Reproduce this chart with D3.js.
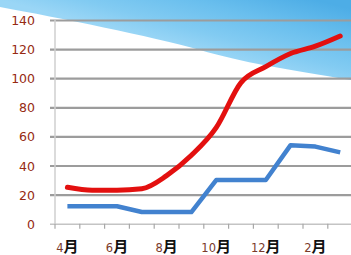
<!DOCTYPE html>
<html>
<head>
<meta charset="utf-8">
<script src="https://cdn.jsdelivr.net/npm/d3@7"></script>
<style>
  body { margin: 0; background: #fff; }
  svg { display: block; }
</style>
</head>
<body>
<svg id="chart" width="351" height="255"></svg>
<script>
'use strict';

const months = ['4月', '5月', '6月', '7月', '8月', '9月', '10月', '11月', '12月', '1月', '2月', '3月'];
const redValues = [25, 23, 23, 24, 33, 47, 66, 97, 108, 117, 122, 129];
const blueValues = [12, 12, 12, 8, 8, 8, 30, 30, 30, 54, 53, 49];
const yTicks = [0, 20, 40, 60, 80, 100, 120, 140];

const svg = d3.select('#chart');

// slot scale: month i sits between i and i+1
const x = d3.scaleLinear().domain([0, 12]).range([55, 352.6]);
const y = d3.scaleLinear().domain([0, 140]).range([223.7, 20]);

// blue background wedge, top right
const defs = svg.append('defs');
const grad = defs.append('linearGradient')
    .attr('id', 'sky')
    .attr('gradientUnits', 'userSpaceOnUse')
    .attr('x1', 200).attr('y1', 52)
    .attr('x2', 220).attr('y2', -25);
grad.append('stop').attr('offset', 0).attr('stop-color', '#9ad6f6');
grad.append('stop').attr('offset', 0.25).attr('stop-color', '#82cbf2');
grad.append('stop').attr('offset', 0.6).attr('stop-color', '#6abfee');
grad.append('stop').attr('offset', 1).attr('stop-color', '#4dade6');

svg.append('path')
    .attr('d', 'M0,0 L351,0 L351,80 C290,70 240,62 200,50 C150,36 60,18 0,7 Z')
    .attr('fill', 'url(#sky)');

// grid lines + y labels
const yAxis = svg.append('g')
    .attr('transform', 'translate(55,0)')
    .call(d3.axisLeft(y).tickValues(yTicks).tickSize(5).tickPadding(15));
yAxis.select('.domain').remove();
yAxis.selectAll('.tick line')
    .attr('x1', -5)
    .attr('x2', 300)
    .attr('stroke', (d) => d === 0 ? '#c4c4c4' : '#9c9c9c')
    .attr('stroke-width', (d) => d === 0 ? 1.5 : 2.2);
yAxis.selectAll('.tick text')
    .attr('fill', '#962a12')
    .attr('font-family', 'DejaVu Sans, sans-serif')
    .attr('font-size', 12.5)
    .attr('dy', '0.36em');

// vertical axis line
svg.append('line')
    .attr('x1', 55).attr('x2', 55)
    .attr('y1', y(140)).attr('y2', y(0))
    .attr('stroke', '#cfcfcf')
    .attr('stroke-width', 1.5);

// x ticks at slot boundaries
svg.append('g')
    .selectAll('line')
    .data(d3.range(0, 13))
    .join('line')
    .attr('x1', (d) => x(d)).attr('x2', (d) => x(d))
    .attr('y1', y(0)).attr('y2', y(0) + 5)
    .attr('stroke', '#a8a8a8')
    .attr('stroke-width', 1.2);

// month labels, every other
const labels = svg.append('g')
    .selectAll('text')
    .data(months.map((m, i) => ({m, i})).filter((d) => d.i % 2 === 0))
    .join('text')
    .attr('x', (d) => x(d.i + 0.5))
    .attr('y', 252)
    .attr('text-anchor', 'middle');
labels.append('tspan')
    .attr('fill', '#7a3a2a')
    .attr('font-family', 'DejaVu Sans, sans-serif')
    .attr('font-size', 11.5)
    .text((d) => d.m.replace('月', ''));
labels.append('tspan')
    .attr('fill', '#111')
    .attr('font-family', 'Noto Sans CJK JP, sans-serif')
    .attr('font-weight', 'bold')
    .attr('font-size', 15)
    .text('月');

// lines
const redLine = d3.line()
    .x((d, i) => x(i + 0.5))
    .y((d) => y(d))
    .curve(d3.curveMonotoneX);
const blueLine = d3.line()
    .x((d, i) => x(i + 0.5))
    .y((d) => y(d));

svg.append('path')
    .attr('d', blueLine(blueValues))
    .attr('fill', 'none')
    .attr('stroke', '#4282cf')
    .attr('stroke-width', 4.5)
    .attr('stroke-linejoin', 'round');

svg.append('path')
    .attr('d', redLine(redValues))
    .attr('fill', 'none')
    .attr('stroke', '#e3100f')
    .attr('stroke-width', 5)
    .attr('stroke-linecap', 'round')
    .attr('stroke-linejoin', 'round');
</script>
</body>
</html>
